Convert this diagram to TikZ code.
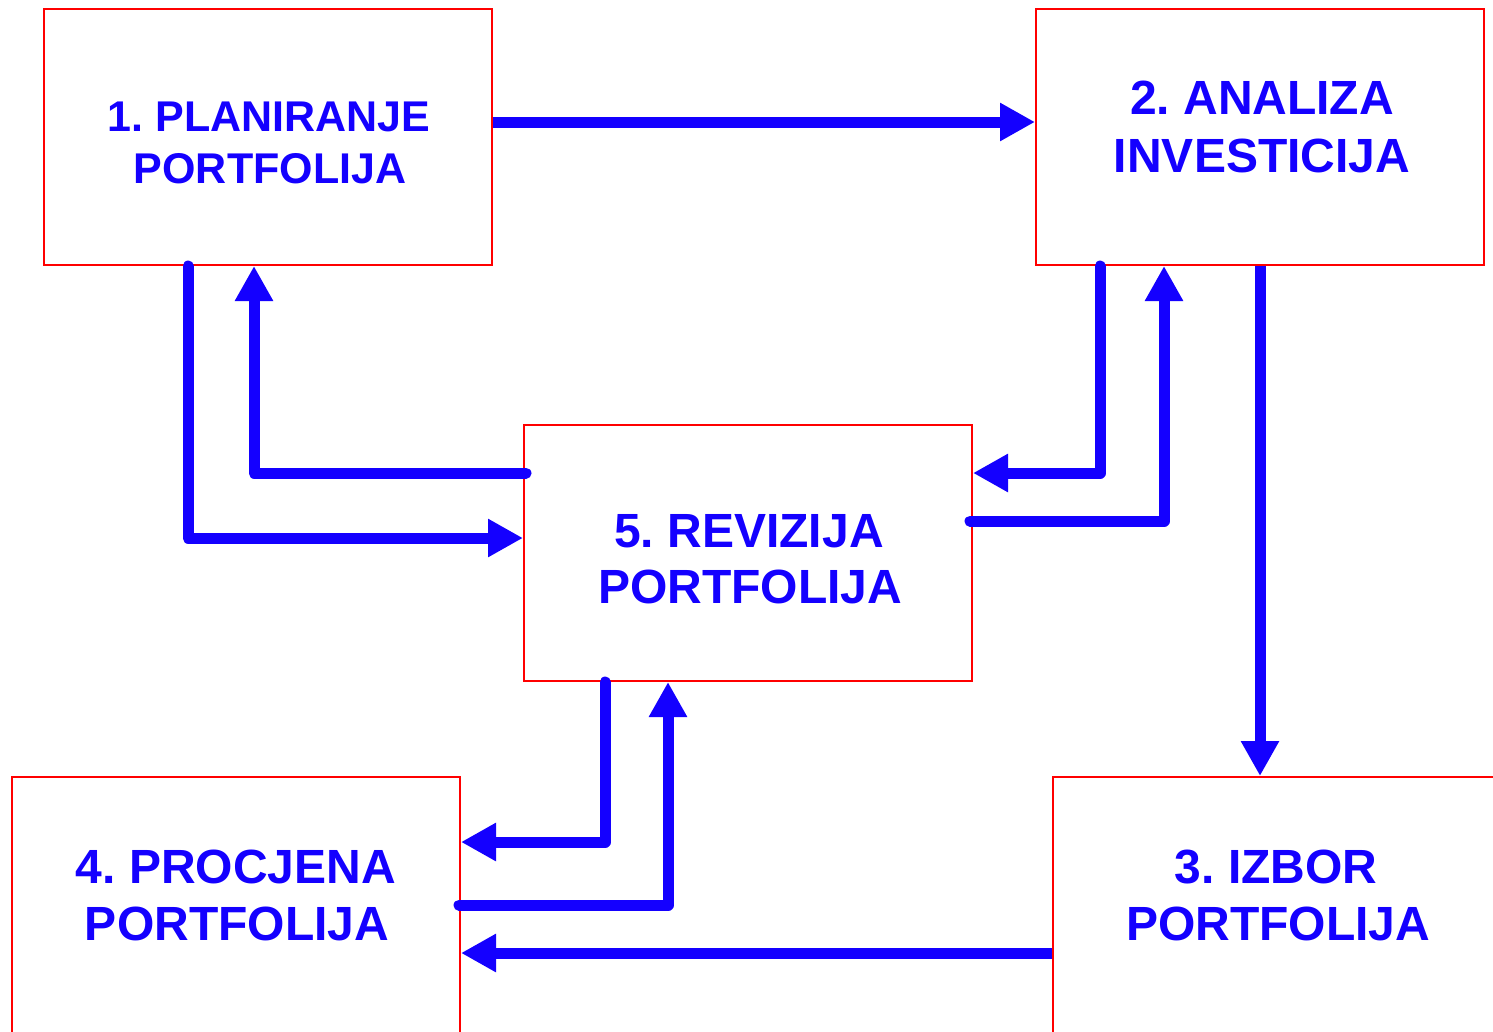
\documentclass[tikz,border=0pt]{standalone}
\usepackage{fontspec}
\setmainfont{Liberation Sans}
\usetikzlibrary{arrows.meta}
\definecolor{flowblue}{RGB}{20,0,255}
\frenchspacing
\tikzset{
  box/.style={draw=red, line width=2pt, rectangle, minimum width=448pt, minimum height=256pt, inner sep=0pt},
  lbl/.style={anchor=base, inner sep=0pt, text=flowblue, font=\bfseries\fontsize{48}{56}\selectfont},
  lblsmall/.style={lbl, font=\bfseries\fontsize{43}{52}\selectfont},
  flow/.style={draw=flowblue, line width=11pt, -{Triangle[length=35pt,width=36pt]}},
  bentflow/.style={flow, line cap=round, line join=round},
}
\begin{document}
\begin{tikzpicture}[x=1pt,y=-1pt]
\useasboundingbox (0,0) rectangle (1493,1031);
\clip (0,0) rectangle (1493,1031);
\fill[white] (0,0) rectangle (1493,1031);
% boxes
\node[box] (b1) at (268,137) {};
\node[box] (b2) at (1260,137) {};
\node[box] (b5) at (748,553) {};
\node[box] (b4) at (236,905) {};
\node[box] (b3) at (1277,905) {};
% texts
\node[lblsmall] (t1a) at (269,131) {1. PLANIRANJE};
\node[lblsmall] (t1b) at (270,183) {PORTFOLIJA};
\node[lbl] (t2a) at (1262,114) {2. ANALIZA};
\node[lbl] (t2b) at (1262,172) {INVESTICIJA};
\node[lbl] (t5a) at (749,547) {5. REVIZIJA};
\node[lbl] (t5b) at (750,603) {PORTFOLIJA};
\node[lbl] (t4a) at (236,883) {4. PROCJENA};
\node[lbl] (t4b) at (237,940) {PORTFOLIJA};
\node[lbl] (t3a) at (1276,883) {3. IZBOR};
\node[lbl] (t3b) at (1278,940) {PORTFOLIJA};
% connectors
\draw[flow] ([yshift=15pt]b1.east) -- ([yshift=15pt]b2.west);
\draw[bentflow] ([xshift=-80pt]b1.south) |- ([yshift=15pt]b5.west);
\draw[bentflow] ([xshift=3pt,yshift=80pt]b5.west) -| ([xshift=-14pt]b1.south);
\draw[bentflow] ([xshift=-160pt]b2.south) |- ([yshift=80pt]b5.east);
\draw[bentflow] ([xshift=-3pt,yshift=32pt]b5.east) -| ([xshift=-96pt]b2.south);
\draw[flow] (b2.south) -- (b2.south |- b3.north);
\draw[bentflow] ([xshift=-143pt]b5.south) |- ([yshift=63pt]b4.east);
\draw[bentflow] ([xshift=-2pt]b4.east) -| ([xshift=-80pt]b5.south);
\draw[flow] ([yshift=-48pt]b3.west) -- ([yshift=-48pt]b4.east);
\end{tikzpicture}
\end{document}
